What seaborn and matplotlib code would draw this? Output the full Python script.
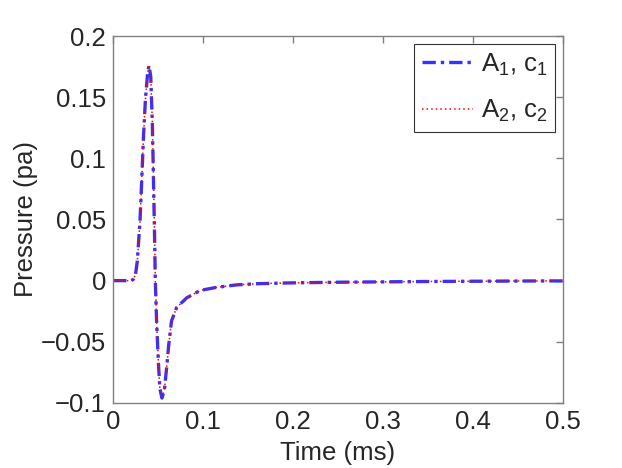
import numpy as np
import pandas as pd
import matplotlib
matplotlib.use('Agg')
import matplotlib.pyplot as plt
import seaborn as sns

# values
time_ms = [0.0, 0.01, 0.02, 0.0226, 0.025, 0.027, 0.030, 0.0318, 0.0337, 0.036, 0.0385, 0.040,
           0.0419, 0.0437, 0.0448, 0.046, 0.047, 0.0485, 0.0504, 0.052, 0.0544, 0.057, 0.0596,
           0.062, 0.065, 0.0707, 0.082, 0.097, 0.115, 0.137, 0.16, 0.2, 0.25, 0.3, 0.35, 0.4, 0.45, 0.5]
p1 = [0.0, 0.0, 0.0, 0.001, 0.005, 0.016, 0.049, 0.080, 0.115, 0.148, 0.170, 0.176,
      0.167, 0.129, 0.088, 0.044, 0.0, -0.035, -0.066, -0.088, -0.096, -0.090, -0.071,
      -0.052, -0.033, -0.022, -0.014, -0.008, -0.0055, -0.0035, -0.0025, -0.0018, -0.0013, -0.001, -0.0007, -0.0005, -0.0003, -0.0002]
p2 = [0.0, 0.0, 0.0, 0.001, 0.005, 0.016, 0.049, 0.080, 0.115, 0.148, 0.170, 0.175,
      0.167, 0.129, 0.088, 0.044, 0.0, -0.035, -0.066, -0.088, -0.095, -0.090, -0.071,
      -0.052, -0.033, -0.022, -0.014, -0.008, -0.0055, -0.0035, -0.0025, -0.0018, -0.0013, -0.001, -0.0007, -0.0005, -0.0003, -0.0002]
labels = ['A$_1$, c$_1$', 'A$_2$, c$_2$']

df = pd.DataFrame({'t': time_ms * 2, 'p': p1 + p2,
                   's': [labels[0]] * len(p1) + [labels[1]] * len(p2)})

sns.set_style('white')
plt.rcParams['font.family'] = ['Liberation Sans', 'DejaVu Sans']
plt.rcParams['mathtext.fontset'] = 'custom'
plt.rcParams['mathtext.rm'] = 'Liberation Sans'
plt.rcParams['mathtext.it'] = 'Liberation Sans'

fig = plt.figure(figsize=(6.22, 4.68), dpi=100)
ax = fig.add_axes([0.1817, 0.139, 0.7233, 0.784])

sns.lineplot(data=df[df.s == labels[0]], x='t', y='p', ax=ax, color='#3333ff',
             lw=2.4, label=labels[0])
ax.lines[-1].set_linestyle((0, (4, 1.5, 1, 1.5)))
sns.lineplot(data=df[df.s == labels[1]], x='t', y='p', ax=ax, color='red',
             lw=1.1, label=labels[1])
ax.lines[-1].set_linestyle((0, (1, 2)))

fs = 18.5
ax.set_xlim(0, 0.5)
ax.set_ylim(-0.1, 0.2)
ax.set_xticks([0, 0.1, 0.2, 0.3, 0.4, 0.5])
ax.set_xticklabels(['0', '0.1', '0.2', '0.3', '0.4', '0.5'])
ax.set_yticks([-0.1, -0.05, 0, 0.05, 0.1, 0.15, 0.2])
ax.set_yticklabels(['\u22120.1', '\u22120.05', '0', '0.05', '0.1', '0.15', '0.2'])
ax.set_xlabel('Time (ms)', fontsize=fs, labelpad=5)
ax.set_ylabel('Pressure (pa)', fontsize=fs, labelpad=2)
ax.tick_params(direction='in', length=5, width=1, color='#808080', labelsize=fs,
               top=True, right=True, pad=5)
for sp in ax.spines.values():
    sp.set_color('#808080')
    sp.set_linewidth(1)

leg = ax.legend(loc='upper right', fontsize=fs, frameon=True, fancybox=False,
                edgecolor='black', handlelength=2.0, borderaxespad=0.3,
                handletextpad=0.3, labelspacing=0.8, borderpad=0.3)
leg.get_frame().set_linewidth(0.8)

fig.savefig('out.png', dpi=100)
